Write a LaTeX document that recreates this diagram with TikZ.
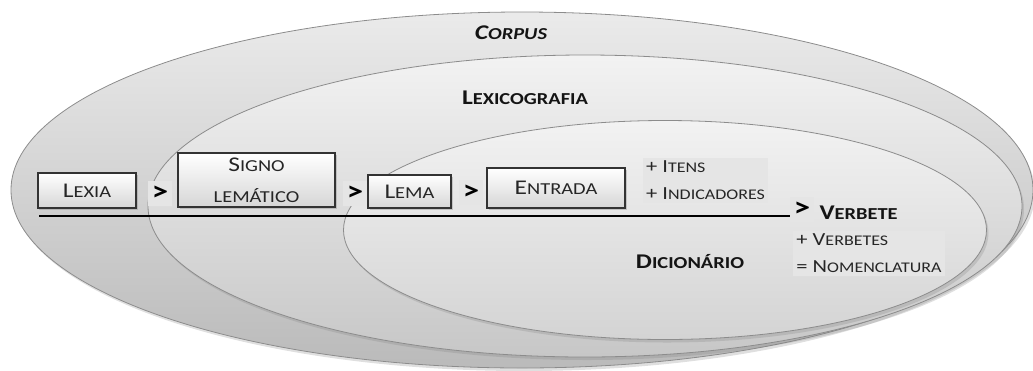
\documentclass[tikz,border=0pt]{standalone}
\usepackage{fontspec}
\setmainfont[FakeStretch=1.22]{Carlito}
\usetikzlibrary{shapes.geometric,shadows}
\makeatletter
\newcommand\lowcaps[1]{{\fontsize{\the\dimexpr0.8\dimexpr\f@size pt\relax\relax}{0}\selectfont#1}}
\makeatother
\tikzset{zone/.style={ellipse,draw=black!45,line width=0.8bp,inner sep=0pt,
		drop shadow={shadow xshift=2bp,shadow yshift=-3bp,opacity=0.25}},
	stage/.style={draw=black!80,line width=1.2bp,top color=white,bottom color=black!16,
		inner sep=0pt,text=black!85,font=\fontsize{21}{31}\selectfont,align=center,
		drop shadow={shadow xshift=1.5bp,shadow yshift=-1.5bp,opacity=0.35}},
	gtsign/.style={fill=black!10,inner sep=0pt,minimum width=24bp,minimum height=25bp,
		font=\bfseries\fontsize{27}{27}\selectfont},
	note/.style={fill=black!10,inner xsep=3bp,inner ysep=3bp,align=left,
		text=black!85,font=\fontsize{18.5}{27}\selectfont},
	title/.style={font=\bfseries\fontsize{21}{24}\selectfont,text=black!92}}

\begin{document}
\begin{tikzpicture}
	[x=1bp,y=-1bp]
	\useasboundingbox (0,0) rectangle (1033,370);
	\node [zone,minimum width=1022bp,minimum height=356bp,top color=black!8,bottom color=black!27] (corpus) at (522,190) {};
	\node [zone,minimum width=874bp,minimum height=302bp,top color=black!5,bottom color=black!22] (lexicografia) at (585,206) {};
	\node [zone,minimum width=643bp,minimum height=219bp,top color=black!5,bottom color=black!17] (dicionario) at (665,230) {};
	\node [title] (corpuslabel) at (511,33) {\itshape C\lowcaps{ORPUS}};
	\node [title] (lexlabel) at (525,98) {L\lowcaps{EXICOGRAFIA}};
	\node [title] (diclabel) at (690,262) {D\lowcaps{ICIONÁRIO}};
	\node [stage,minimum width=98bp,minimum height=35bp] (lexia) at (87,190.5) {L\lowcaps{EXIA}};
	\node [gtsign] (gt1) at (160,193) {>};
	\node [stage,minimum width=157bp,minimum height=54bp] (signo) at (256.5,180) {S\lowcaps{IGNO}\\\lowcaps{LEMÁTICO}};
	\node [gtsign] (gt2) at (355,193) {>};
	\node [stage,minimum width=83bp,minimum height=33bp] (lema) at (409.5,191.5) {L\lowcaps{EMA}};
	\node [gtsign] (gt3) at (471,192) {>};
	\node [stage,minimum width=138bp,minimum height=40bp] (entrada) at (556,188) {E\lowcaps{NTRADA}};
	\node [note] (itens) at (705.5,180.5) {+ I\lowcaps{TENS}\\+ I\lowcaps{NDICADORES}};
	\node [gtsign] (gt4) at (802,209) {>};
	\node [title,anchor=west] (verbete) at (816,213) {V\lowcaps{ERBETE}};
	\node [note] (verbetes) at (869,253.5) {+ V\lowcaps{ERBETES}\\= N\lowcaps{OMENCLATURA}};
	\coordinate (start) at (39,216);
	\draw [line width=2.6bp] (start) -- (start -| gt4.west);
\end{tikzpicture}
\end{document}
